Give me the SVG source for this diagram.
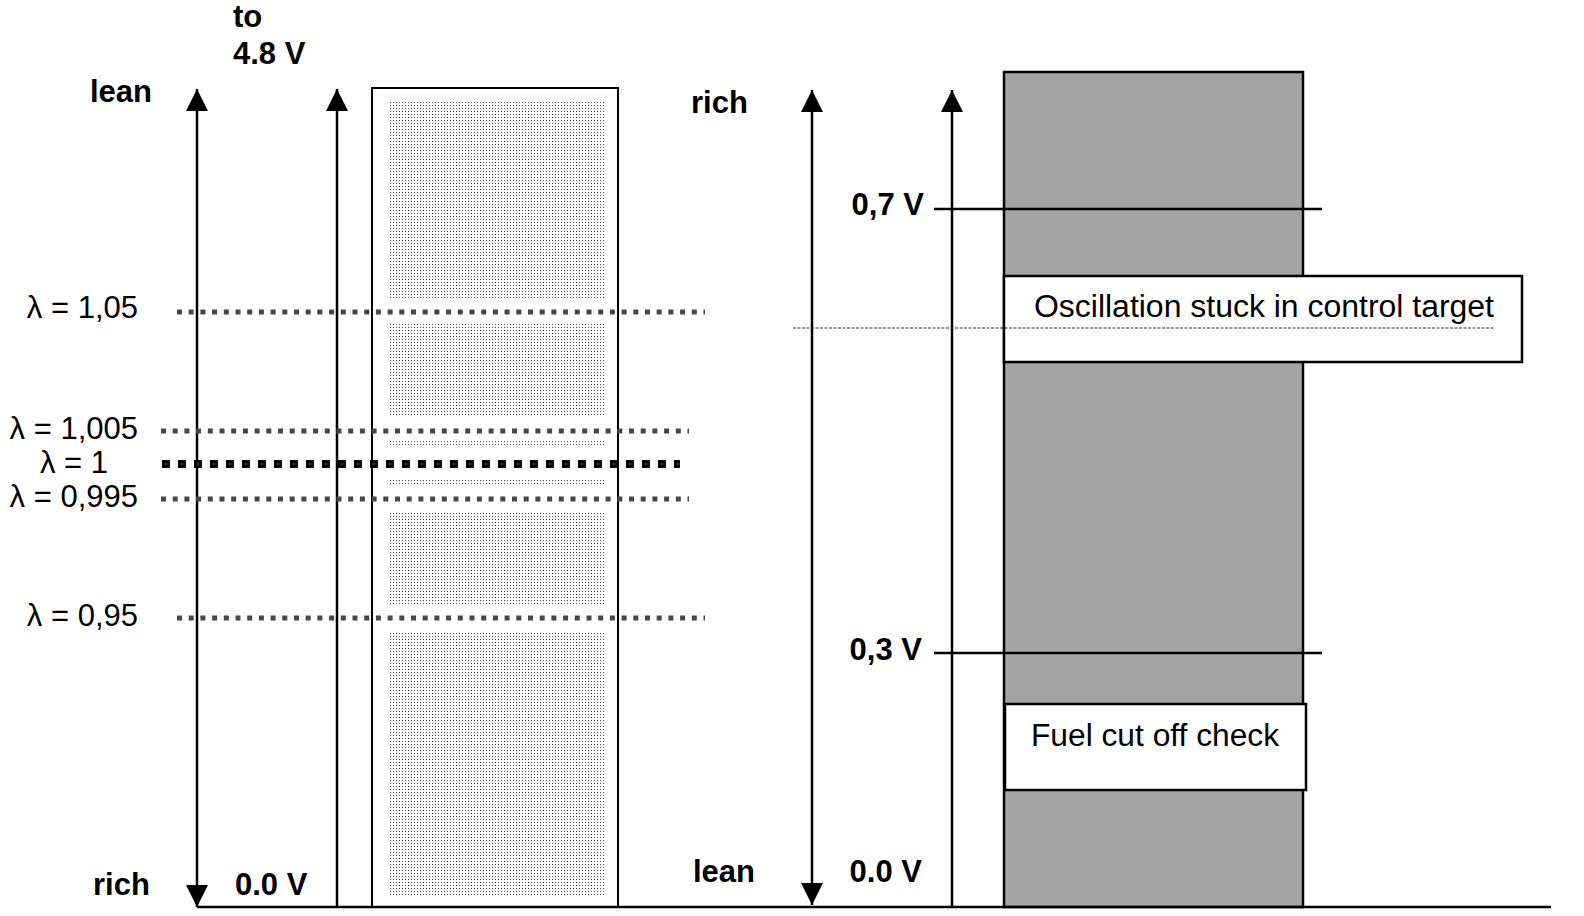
<svg xmlns="http://www.w3.org/2000/svg" width="1584" height="916" viewBox="0 0 1584 916">
<style>
.b{font-family:"Liberation Sans",Arial,sans-serif;font-weight:bold;font-size:31px;fill:#000}
.r{font-family:"Liberation Sans",Arial,sans-serif;font-size:31px;fill:#000}
.ax{stroke:#000;stroke-width:2.5;fill:none}
.dl{stroke:#474747;stroke-width:5;stroke-dasharray:5 6.7;fill:none}
.th{stroke:#000;stroke-width:2.5;fill:none}
</style>
<defs>
<marker id="arr" markerUnits="userSpaceOnUse" markerWidth="22" markerHeight="22" viewBox="0 0 22 22" refX="22" refY="11" orient="auto-start-reverse">
<path d="M0,0 L22,11 L0,22 z" fill="#000"/>
</marker>
<pattern id="stip" width="3" height="3" patternUnits="userSpaceOnUse">
<rect width="3" height="3" fill="#fff"/>
<rect width="1" height="1" fill="#555"/>
</pattern>
</defs>
<rect width="1584" height="916" fill="#fff"/>

<g id="left-bar">
<rect x="372" y="88" width="246" height="819" fill="#fff" stroke="#000" stroke-width="2"/>
<rect x="388" y="100" width="216" height="198" fill="url(#stip)"/>
<rect x="388" y="322" width="216" height="95" fill="url(#stip)"/>
<rect x="388" y="441" width="216" height="5" fill="url(#stip)"/>
<rect x="388" y="480" width="216" height="5" fill="url(#stip)"/>
<rect x="388" y="512" width="216" height="93" fill="url(#stip)"/>
<rect x="388" y="632" width="216" height="263" fill="url(#stip)"/>
</g>

<g id="right-bar">
<rect x="1004" y="72" width="299" height="835" fill="#a4a4a4" stroke="#000" stroke-width="2.5"/>
</g>

<g id="connectors">
<line class="ax" x1="197" y1="89" x2="197" y2="907" marker-start="url(#arr)" marker-end="url(#arr)"/>
<line class="ax" x1="337" y1="907" x2="337" y2="89" marker-end="url(#arr)"/>
<line class="ax" x1="812" y1="90" x2="812" y2="905" marker-start="url(#arr)" marker-end="url(#arr)"/>
<line class="ax" x1="952" y1="907" x2="952" y2="90" marker-end="url(#arr)"/>
<line class="th" x1="197" y1="907" x2="1551" y2="907"/>
<line class="dl" x1="177" y1="312" x2="705" y2="312"/>
<line class="dl" x1="161" y1="431" x2="689" y2="431"/>
<line x1="162" y1="464" x2="680" y2="464" stroke="#000" stroke-width="8" stroke-dasharray="8 8"/>
<line x1="162" y1="464" x2="680" y2="464" stroke="#fff" stroke-width="1" stroke-dasharray="1 15" stroke-dashoffset="-3.5"/>
<line class="dl" x1="161" y1="499" x2="689" y2="499"/>
<line class="dl" x1="177" y1="618" x2="705" y2="618"/>
<line class="th" x1="934" y1="209" x2="1322" y2="209"/>
<line class="th" x1="934" y1="653" x2="1322" y2="653"/>
</g>

<g id="box-oscillation">
<rect x="1004" y="276" width="518" height="86" fill="#fff" stroke="#000" stroke-width="2.5"/>
<text class="r" x="1034" y="317" textLength="460" lengthAdjust="spacingAndGlyphs">Oscillation stuck in control target</text>
<line x1="793" y1="328" x2="1494" y2="328" stroke="#333" stroke-width="1.2" stroke-dasharray="3 1.5"/>
</g>

<g id="box-fuel">
<rect x="1005" y="704" width="301" height="86" fill="#fff" stroke="#000" stroke-width="2.5"/>
<text class="r" x="1031" y="746" textLength="248" lengthAdjust="spacingAndGlyphs">Fuel cut off check</text>
</g>

<g id="labels-left">
<text class="b" x="233" y="27">to</text>
<text class="b" x="233" y="64">4.8 V</text>
<text class="b" x="90" y="102">lean</text>
<text class="b" x="93" y="895">rich</text>
<text class="b" x="235" y="895">0.0 V</text>
<text class="r" x="138" y="318" text-anchor="end">λ = 1,05</text>
<text class="r" x="138" y="439" text-anchor="end">λ = 1,005</text>
<text class="r" x="108" y="473" text-anchor="end">λ = 1</text>
<text class="r" x="138" y="507" text-anchor="end">λ = 0,995</text>
<text class="r" x="138" y="626" text-anchor="end">λ = 0,95</text>
</g>

<g id="labels-right">
<text class="b" x="691" y="113">rich</text>
<text class="b" x="693" y="882">lean</text>
<text class="b" x="924" y="215" text-anchor="end">0,7 V</text>
<text class="b" x="922" y="660" text-anchor="end">0,3 V</text>
<text class="b" x="922" y="882" text-anchor="end">0.0 V</text>
</g>
</svg>
